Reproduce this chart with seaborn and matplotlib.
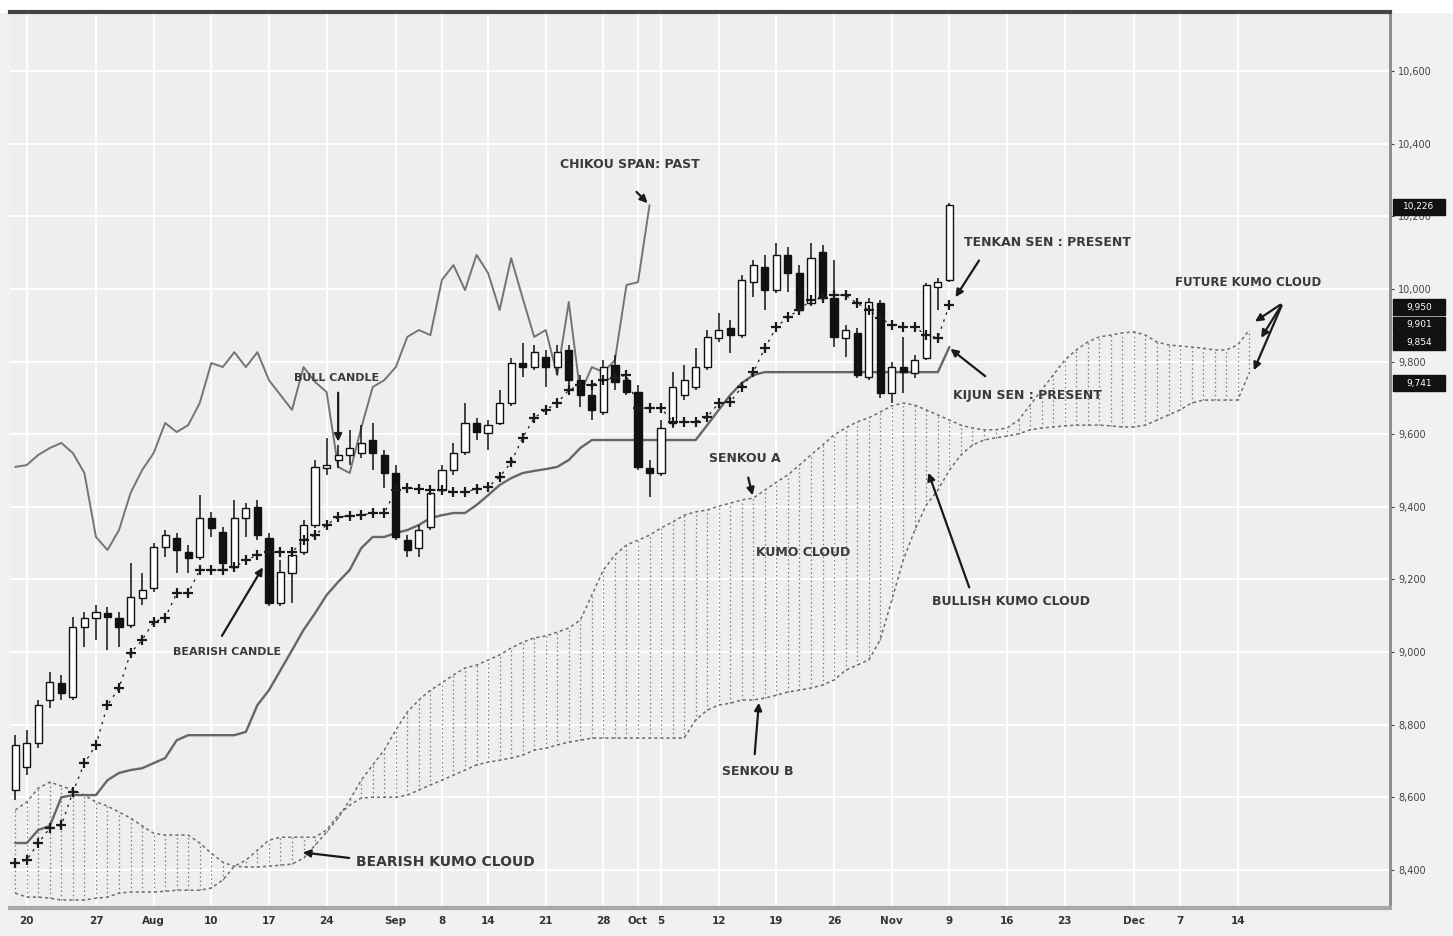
import numpy as np
import matplotlib
matplotlib.use("Agg")
import matplotlib.pyplot as plt
import seaborn as sns

# Ichimoku chart, daily candles
opens = [8620, 8683, 8749, 8868, 8915, 8876, 9069, 9094, 9107, 9094,
         9074, 9149, 9176, 9289, 9314, 9275, 9262, 9369, 9331, 9234,
         9369, 9399, 9314, 9135, 9218, 9275, 9350, 9507, 9529, 9543,
         9548, 9584, 9543, 9493, 9308, 9286, 9344, 9446, 9501, 9551,
         9631, 9603, 9631, 9686, 9796, 9785, 9813, 9785, 9832, 9749,
         9708, 9661, 9791, 9749, 9716, 9507, 9493, 9631, 9708, 9730,
         9785, 9865, 9893, 9873, 10019, 10061, 9997, 10094, 10044, 9961,
         10102, 9975, 9865, 9879, 9758, 9961, 9713, 9785, 9769, 9810,
         10006, 10025]
closes = [8744, 8749, 8854, 8917, 8887, 9069, 9094, 9110, 9096, 9069,
          9151, 9171, 9289, 9322, 9281, 9259, 9369, 9342, 9245, 9369,
          9397, 9322, 9135, 9220, 9267, 9350, 9510, 9515, 9543, 9562,
          9576, 9548, 9493, 9317, 9281, 9336, 9438, 9501, 9548, 9631,
          9606, 9625, 9686, 9796, 9785, 9826, 9785, 9826, 9749, 9708,
          9667, 9785, 9744, 9716, 9510, 9493, 9617, 9730, 9749, 9785,
          9868, 9887, 9873, 10025, 10066, 9997, 10094, 10044, 9942, 10085,
          9975, 9868, 9887, 9763, 9964, 9713, 9785, 9771, 9804, 10011,
          10019, 10231]
highs = [8771, 8785, 8868, 8945, 8937, 9096, 9110, 9129, 9124, 9110,
         9245, 9218, 9300, 9336, 9328, 9295, 9432, 9386, 9344, 9419,
         9410, 9419, 9328, 9253, 9281, 9364, 9529, 9590, 9570, 9612,
         9625, 9631, 9556, 9515, 9322, 9350, 9452, 9515, 9576, 9686,
         9645, 9639, 9722, 9810, 9851, 9846, 9832, 9846, 9846, 9763,
         9722, 9804, 9818, 9777, 9736, 9529, 9639, 9771, 9791, 9837,
         9887, 9934, 9915, 10039, 10080, 10094, 10127, 10116, 10066, 10127,
         10121, 10080, 9901, 9893, 9975, 9970, 9799, 9868, 9818, 10017,
         10030, 10237]
lows = [8592, 8661, 8735, 8846, 8868, 8868, 9014, 9033, 9005, 9014,
        9066, 9129, 9165, 9262, 9218, 9218, 9253, 9317, 9234, 9226,
        9317, 9308, 9127, 9127, 9135, 9267, 9342, 9488, 9507, 9515,
        9534, 9501, 9452, 9308, 9262, 9262, 9336, 9432, 9488, 9543,
        9584, 9556, 9625, 9678, 9758, 9777, 9730, 9763, 9736, 9675,
        9639, 9653, 9722, 9708, 9501, 9427, 9485, 9617, 9694, 9722,
        9777, 9854, 9824, 9865, 9978, 9942, 9989, 9992, 9928, 9953,
        9970, 9840, 9813, 9755, 9749, 9700, 9686, 9713, 9755, 9804,
        9942, 10019]

tenkan = [8419, 8427, 8474, 8515, 8523, 8614, 8694, 8744, 8854, 8901,
          8997, 9033, 9083, 9094, 9162, 9162, 9226, 9226, 9226, 9234,
          9253, 9267, 9275, 9275, 9275, 9308, 9322, 9350, 9372, 9375,
          9377, 9383, 9383, 9446, 9452, 9449, 9446, 9446, 9441, 9441,
          9449, 9455, 9482, 9523, 9590, 9645, 9667, 9686, 9722, 9736,
          9736, 9749, 9755, 9763, 9672, 9672, 9672, 9634, 9634, 9634,
          9647, 9686, 9689, 9730, 9771, 9837, 9895, 9923, 9942, 9970,
          9975, 9983, 9983, 9961, 9942, 9920, 9901, 9895, 9895, 9873,
          9865, 9956]
kijun = [8474, 8474, 8510, 8521, 8600, 8606, 8606, 8606, 8647, 8667,
         8675, 8680, 8694, 8708, 8757, 8771, 8771, 8771, 8771, 8771,
         8780, 8854, 8895, 8950, 9005, 9061, 9107, 9157, 9193, 9226,
         9286, 9317, 9317, 9328, 9336, 9350, 9369, 9377, 9383, 9383,
         9405, 9432, 9460, 9479, 9493, 9499, 9504, 9510, 9529, 9562,
         9584, 9584, 9584, 9584, 9584, 9584, 9584, 9584, 9584, 9584,
         9625, 9667, 9708, 9741, 9763, 9771, 9771, 9771, 9771, 9771,
         9771, 9771, 9771, 9771, 9771, 9771, 9771, 9771, 9771, 9771,
         9771, 9840]

# cloud spans, 26 periods beyond the last candle
senkou_a = [8565, 8587, 8625, 8642, 8631, 8620, 8606, 8587, 8576, 8559,
            8543, 8521, 8501, 8496, 8496, 8496, 8474, 8446, 8421, 8410,
            8408, 8408, 8410, 8413, 8416, 8432, 8468, 8504, 8543, 8592,
            8647, 8689, 8730, 8785, 8835, 8868, 8895, 8915, 8937, 8956,
            8964, 8978, 8992, 9011, 9027, 9039, 9044, 9055, 9066, 9088,
            9157, 9226, 9267, 9295, 9308, 9322, 9342, 9358, 9377, 9386,
            9391, 9402, 9410, 9419, 9424, 9446, 9468, 9488, 9515, 9543,
            9570, 9598, 9617, 9634, 9645, 9661, 9678, 9686, 9680, 9667,
            9653, 9639, 9625, 9617, 9612, 9612, 9617, 9639, 9680, 9722,
            9763, 9804, 9832, 9854, 9868, 9873, 9879, 9882, 9873, 9854,
            9846, 9843, 9840, 9837, 9832, 9832, 9846, 9887]
senkou_b = [8336, 8325, 8325, 8322, 8317, 8317, 8317, 8322, 8325, 8336,
            8339, 8339, 8339, 8341, 8344, 8344, 8344, 8350, 8372, 8410,
            8427, 8454, 8482, 8490, 8490, 8490, 8490, 8510, 8551, 8578,
            8598, 8600, 8600, 8600, 8606, 8620, 8634, 8647, 8661, 8675,
            8689, 8697, 8702, 8708, 8716, 8730, 8735, 8744, 8752, 8757,
            8763, 8763, 8763, 8763, 8763, 8763, 8763, 8763, 8763, 8813,
            8840, 8854, 8859, 8868, 8868, 8873, 8881, 8890, 8895, 8901,
            8909, 8923, 8950, 8964, 8978, 9033, 9143, 9253, 9336, 9405,
            9446, 9501, 9543, 9570, 9584, 9590, 9595, 9601, 9612, 9617,
            9620, 9623, 9625, 9625, 9625, 9623, 9620, 9620, 9625, 9639,
            9653, 9667, 9686, 9694, 9694, 9694, 9694, 9769]

date_pos = [1, 7, 12, 17, 22, 27, 33, 37, 41, 46, 51, 54, 56, 61, 66, 71,
            76, 81, 86, 91, 97, 101, 106]
date_lab = ["20", "27", "Aug", "10", "17", "24", "Sep", "8", "14", "21", "28",
            "Oct", "5", "12", "19", "26", "Nov", "9", "16", "23", "Dec", "7", "14"]
price_ticks = [8400, 8600, 8800, 9000, 9200, 9400, 9600, 9800, 10000,
               10200, 10400, 10600]
tag_values = [10226, 9950, 9901, 9854, 9741]

sns.set_style("whitegrid", {"axes.facecolor": "#eeeeee", "grid.color": "white"})
plt.rcParams['font.family'] = ['DejaVu Sans']

fig = plt.figure(figsize=(14.53, 9.36), dpi=100, facecolor='#f1f1f1')
fig.add_artist(plt.Rectangle((0, 0.9872), 1, 0.0128, transform=fig.transFigure,
                             color='white', zorder=0))
ax = fig.add_axes([0.0069, 0.0299, 0.9497, 0.9573])

n = np.arange(len(closes))
fut = np.arange(len(senkou_a))
o = np.array(opens)
c = np.array(closes)

# kumo cloud: dotted hatching between the two spans
sa = np.array(senkou_a)
sb = np.array(senkou_b)
ax.vlines(fut, np.minimum(sa, sb), np.maximum(sa, sb), colors='#7c7c7c',
          linestyles=(0, (1.2, 2.2)), lw=0.9, zorder=1)
ax.plot(fut, sa, color='#6c6c6c', ls=(0, (2, 2)), lw=1.1, zorder=2)
ax.plot(fut, sb, color='#6c6c6c', ls=(0, (2, 2)), lw=1.1, zorder=2)

# kijun sen and chikou span (close plotted 26 periods back)
sns.lineplot(x=n, y=kijun, ax=ax, color='#666666', lw=1.7, zorder=2)
sns.lineplot(x=n[26:] - 26, y=c[26:], ax=ax, color='#747474', lw=1.4, zorder=2)

# candles
up = c >= o
ax.vlines(n, lows, highs, color='#111111', lw=1.1, zorder=3)
ax.bar(n[up], (c - o)[up], bottom=o[up], width=0.62, color='white',
       edgecolor='#111111', lw=1.0, zorder=4)
ax.bar(n[~up], (o - c)[~up], bottom=c[~up], width=0.62, color='#111111',
       edgecolor='#111111', lw=1.0, zorder=4)

# tenkan sen
ax.plot(n, tenkan, color='#1a1a1a', ls=(0, (2, 4)), lw=0.9, marker='+',
        markersize=6.5, mew=1.6, zorder=5)

# axes look
ax.set_xlim(-0.45, 119.2)
ax.set_ylim(8295, 10763)
ax.yaxis.tick_right()
ax.set_yticks(price_ticks)
ax.set_yticklabels([f"{v:,}" for v in price_ticks])
ax.set_xticks(date_pos)
ax.set_xticklabels(date_lab)
ax.tick_params(axis='y', labelsize=7, colors='#444444', length=3, pad=3)
ax.tick_params(axis='x', labelsize=7.5, colors='#333333', length=0, pad=6)
for lab in ax.get_xticklabels():
    lab.set_fontweight('bold')
ax.grid(True, color='white', lw=1.4)
ax.spines['left'].set_visible(False)
ax.spines['top'].set_color('#444444')
ax.spines['top'].set_linewidth(3)
ax.spines['right'].set_color('#888888')
ax.spines['right'].set_linewidth(2)
ax.spines['bottom'].set_color('#a8a8a8')
ax.spines['bottom'].set_linewidth(3)
ax.set_xlabel('')
ax.set_ylabel('')

# black price tags on the right axis, all the same width
ytr = ax.get_yaxis_transform()
for v in tag_values:
    ax.add_patch(plt.Rectangle((1.002, v - 22), 0.038, 44, transform=ytr,
                               facecolor='#111111', edgecolor='#111111',
                               clip_on=False, zorder=6))
    ax.text(1.021, v, f"{v:,}", transform=ytr, ha='center', va='center',
            fontsize=6.5, color='white', zorder=7)

# annotations
txt = dict(fontsize=9, fontweight='bold', color='#3a3a3a', ha='center', va='center')
arr = dict(arrowstyle='-|>', color='#1a1a1a', lw=1.6, mutation_scale=11)

ax.annotate('', xy=(55, closes[-1]), xytext=(53.7, 10273), arrowprops=arr)
ax.text(53.3, 10342, 'CHIKOU SPAN: PAST', **txt)

ax.annotate('', xy=(28, 9572), xytext=(28, 9722), arrowprops=arr)
ax.text(27.9, 9755, 'BULL CANDLE', **{**txt, 'fontsize': 8})

ax.annotate('', xy=(21.6, 9240), xytext=(17.8, 9038), arrowprops=arr)
ax.text(18.4, 9000, 'BEARISH CANDLE', **{**txt, 'fontsize': 8})

ax.annotate('', xy=(81.4, tenkan[-1] + 15), xytext=(83.7, 10085), arrowprops=arr)
ax.text(89.5, 10129, 'TENKAN SEN : PRESENT', **txt)

ax.annotate('', xy=(80.9, kijun[-1]), xytext=(84.3, 9755), arrowprops=arr)
ax.text(87.8, 9708, 'KIJUN SEN : PRESENT', **txt)

for tip in [(107.3, 9906), (107.9, 9859), (107.3, 9769)]:
    ax.annotate('', xy=tip, xytext=(109.9, 9961), arrowprops=arr)
ax.text(106.9, 10017, 'FUTURE KUMO CLOUD', **{**txt, 'fontsize': 8.5})

ax.annotate('', xy=(64, senkou_a[64]), xytext=(63.5, 9488), arrowprops=arr)
ax.text(63.3, 9534, 'SENKOU A', **txt)

ax.text(68.3, 9273, 'KUMO CLOUD', **txt)

ax.annotate('', xy=(79.1, 9501), xytext=(82.8, 9171), arrowprops=arr)
ax.text(86.3, 9138, 'BULLISH KUMO CLOUD', **txt)

ax.annotate('', xy=(64.5, senkou_b[64]), xytext=(64.1, 8711), arrowprops=arr)
ax.text(64.4, 8672, 'SENKOU B', **txt)

ax.annotate('', xy=(24.7, 8449), xytext=(29.2, 8432), arrowprops=arr)
ax.text(37.3, 8421, 'BEARISH KUMO CLOUD', **{**txt, 'fontsize': 10})

fig.savefig('out.png', dpi=100, facecolor=fig.get_facecolor())
